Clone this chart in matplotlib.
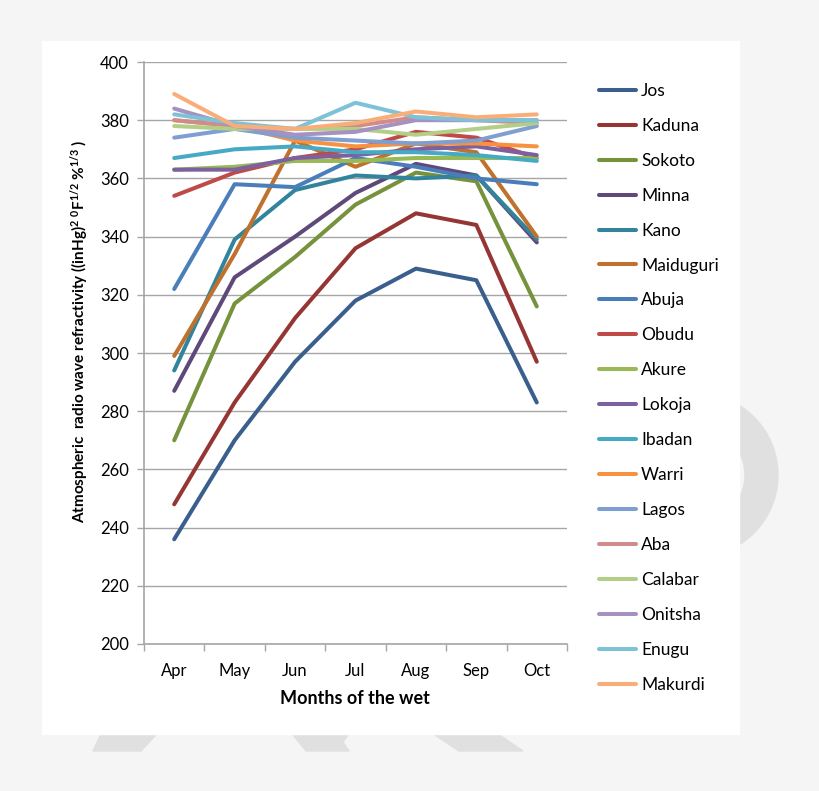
import matplotlib
matplotlib.use("Agg")
import matplotlib.pyplot as plt
from matplotlib.patches import Polygon, Rectangle, Wedge
import numpy as np

plt.rcParams['font.family'] = ['Lato', 'DejaVu Sans']
plt.rcParams['mathtext.fontset'] = 'custom'
plt.rcParams['mathtext.rm'] = 'Lato:bold'
plt.rcParams['mathtext.it'] = 'Lato:bold'
plt.rcParams['mathtext.bf'] = 'Lato:bold'

# data
months = ['Apr', 'May', 'Jun', 'Jul', 'Aug', 'Sep', 'Oct']
towns = ['Jos', 'Kaduna', 'Sokoto', 'Minna', 'Kano', 'Maiduguri', 'Abuja', 'Obudu', 'Akure',
         'Lokoja', 'Ibadan', 'Warri', 'Lagos', 'Aba', 'Calabar', 'Onitsha', 'Enugu', 'Makurdi']
jos = [236, 270, 297, 318, 329, 325, 283]
kaduna = [248, 283, 312, 336, 348, 344, 297]
sokoto = [270, 317, 333, 351, 362, 359, 316]
minna = [287, 326, 340, 355, 365, 361, 338]
kano = [294, 339, 356, 361, 360, 361, 339]
maiduguri = [299, 334, 373, 364, 372, 369, 340]
abuja = [322, 358, 357, 367, 364, 360, 358]
obudu = [354, 362, 367, 370, 376, 374, 367]
akure = [363, 364, 366, 366, 367, 367, 367]
lokoja = [363, 363, 367, 368, 370, 371, 368]
ibadan = [367, 370, 371, 369, 369, 368, 366]
warri = [380, 378, 373, 371, 372, 372, 371]
lagos = [374, 377, 374, 373, 372, 373, 378]
aba = [380, 378, 377, 378, 381, 380, 379]
calabar = [378, 377, 377, 377, 375, 377, 379]
onitsha = [384, 378, 375, 376, 380, 380, 380]
enugu = [382, 379, 377, 386, 381, 380, 380]
makurdi = [389, 378, 377, 379, 383, 381, 382]
series = [jos, kaduna, sokoto, minna, kano, maiduguri, abuja, obudu, akure,
          lokoja, ibadan, warri, lagos, aba, calabar, onitsha, enugu, makurdi]
colors = ['#3a5f8d', '#963634', '#76923c', '#5f497a', '#31849b', '#c0712e',
          '#4a7ebb', '#be4b48', '#98b954', '#7d60a0', '#46aac5', '#f69240',
          '#7f9fd0', '#d08c8b', '#b3cf87', '#a592c1', '#7dc2d7', '#f9ae7a']

fig = plt.figure(figsize=(8.2, 7.91), dpi=100)
fig.patch.set_facecolor('#f5f5f5')

# background: card and faint watermark shapes
bg = fig.add_axes([0, 0, 1, 1], zorder=-10)
bg.set_xlim(0, 820)
bg.set_ylim(791, 0)
bg.axis('off')
shade = '#e0e0e0'
bg.add_patch(Polygon([(105, 725), (165, 725), (141, 751), (93, 751)], color=shade))
bg.add_patch(Polygon([(285, 725), (355, 725), (343, 742), (349, 751), (306, 751)], color=shade))
bg.add_patch(Polygon([(420, 725), (485, 725), (523, 751), (459, 751)], color=shade))
bg.add_patch(Wedge((696, 475), 82, -90, 90, width=33, color=shade))
bg.add_patch(Rectangle((42, 41), 697, 693, color='white'))

ax = fig.add_axes([144 / 820, 1 - 644 / 791, (567 - 144) / 820, (644 - 62) / 791])
x = np.arange(len(months))
for name, vals, c in zip(towns, series, colors):
    ax.plot(x, vals, color=c, lw=2.9, label=name, solid_capstyle='round')

ax.set_xlim(-0.5, len(months) - 0.5)
ax.set_ylim(200, 400)
ax.set_yticks(np.arange(200, 401, 20))
ax.set_xticks(x)
ax.set_xticklabels(months)
ax.set_xticks(np.arange(-0.5, len(months)), minor=True)
ax.tick_params(axis='x', which='major', length=0, labelsize=12, pad=14)
ax.tick_params(axis='x', which='minor', length=5, color='#a6a6a6', width=1)
ax.tick_params(axis='y', length=5, color='#a6a6a6', width=1, labelsize=12, pad=6)
ax.grid(axis='y', color='#a6a6a6', lw=1)
ax.set_axisbelow(True)
for s in ['top', 'right']:
    ax.spines[s].set_visible(False)
for s in ['left', 'bottom']:
    ax.spines[s].set_color('#a6a6a6')
    ax.spines[s].set_linewidth(1.2)

fig.text(355 / 820, 1 - 698 / 791, 'Months of the wet', ha='center', va='center',
         fontsize=13, fontweight='bold')
fig.text(80 / 820, 1 - 331 / 791,
         'Atmospheric  radio wave refractivity ((inHg)$^{2}$ $^{0}$F$^{1/2}$ %$^{1/3}$ )',
         rotation=90, ha='center', va='center', fontsize=11, fontweight='bold')

fig.legend(loc='upper left', bbox_to_anchor=(592 / 820, 1 - 76 / 791), frameon=False,
           fontsize=12.5, handlelength=2.13, handletextpad=0.3, labelspacing=1.09,
           borderaxespad=0)

fig.savefig('out.png', dpi=100, facecolor=fig.get_facecolor())
